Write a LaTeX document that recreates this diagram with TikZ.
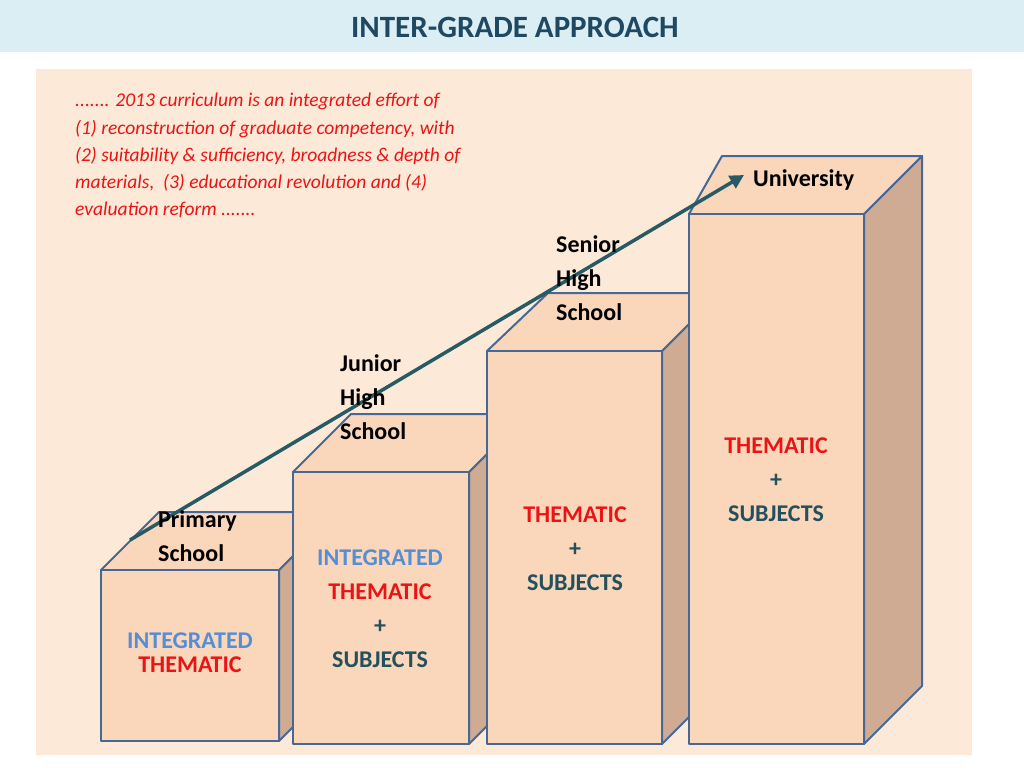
\documentclass[tikz,border=0pt]{standalone}
\usepackage{fontspec}
\setmainfont{Carlito}
\usetikzlibrary{arrows.meta}
\definecolor{titlebar}{RGB}{219,238,244}
\definecolor{titleink}{RGB}{31,73,99}
\definecolor{panel}{RGB}{252,233,216}
\definecolor{frontface}{RGB}{250,214,186}
\definecolor{sideface}{RGB}{206,171,146}
\definecolor{edge}{RGB}{70,104,150}
\definecolor{intblue}{RGB}{85,142,213}
\definecolor{themred}{RGB}{235,20,20}
\definecolor{subjteal}{RGB}{35,80,92}
\definecolor{arrowteal}{RGB}{38,90,100}
\tikzset{
  face/.style={draw=edge, line width=2pt, line join=round},
  level/.style={font=\fontsize{24}{34}\selectfont\bfseries, align=left, anchor=north west, inner sep=0pt},
  content/.style={font=\fontsize{24}{34}\selectfont\bfseries, align=center},
}
% box: left, right, top, bottom, back-left x
\newcommand{\stepblock}[5]{%
  \fill[sideface,face] (#2,#3) -- (#2+58,#3-58) -- (#2+58,#4-58) -- (#2,#4) -- cycle;
  \fill[frontface,face] (#1,#3) -- (#5,#3-58) -- (#2+58,#3-58) -- (#2,#3) -- cycle;
  \fill[frontface,face] (#1,#3) rectangle (#2,#4);
}
\begin{document}
\begin{tikzpicture}[x=1pt,y=-1pt]
\useasboundingbox (0,0) rectangle (1024,768);
\fill[white] (0,0) rectangle (1024,768);

%title
\fill[titlebar] (0,0) rectangle (1024,52);
\node[font=\fontsize{31}{36}\selectfont\bfseries, text=titleink] (title) at (515,27) {INTER-GRADE APPROACH};
\fill[panel] (36,69) rectangle (972,755);

%quote
\node[anchor=north west, align=left, inner sep=0pt, text=themred,
  font=\fontsize{19.5}{27.3}\selectfont\itshape] (quote) at (75,93)
  {....... 2013 curriculum is an integrated effort of\\
   (1) reconstruction of graduate competency, with\\
   (2) suitability \& sufficiency, broadness \& depth of\\
   materials,~ (3) educational revolution and (4)\\
   evaluation reform .......};

%the steps
\stepblock{101}{279}{570}{741}{159}
\stepblock{293}{469}{472}{744}{351}
\stepblock{487}{662}{351}{744}{548}
\stepblock{689}{864}{214}{744}{722}

%arrow
\coordinate (start) at (130,540);
\coordinate (finish) at (744,175);
\draw[arrowteal, line width=3.5pt, -{Triangle[length=14pt,width=14pt]}] (start) -- (finish);

%level names
\node[level] (primary) at (158,510) {Primary\\School};
\node[level] (junior) at (340,354) {Junior\\High\\School};
\node[level] (senior) at (556,235) {Senior\\High\\School};
\node[level] (univ) at (753,169) {University};

%contents
\node[content] (c1) at (190,653) {\textcolor{intblue}{INTEGRATED}\\[-10pt]\textcolor{themred}{THEMATIC}};
\node[content] (c2) at (380,609) {\textcolor{intblue}{INTEGRATED}\\\textcolor{themred}{THEMATIC}\\\textcolor{subjteal}{+}\\\textcolor{subjteal}{SUBJECTS}};
\node[content] (c3) at (575,549) {\textcolor{themred}{THEMATIC}\\\textcolor{subjteal}{+}\\\textcolor{subjteal}{SUBJECTS}};
\node[content] (c4) at (776,480) {\textcolor{themred}{THEMATIC}\\\textcolor{subjteal}{+}\\\textcolor{subjteal}{SUBJECTS}};
\end{tikzpicture}
\end{document}
